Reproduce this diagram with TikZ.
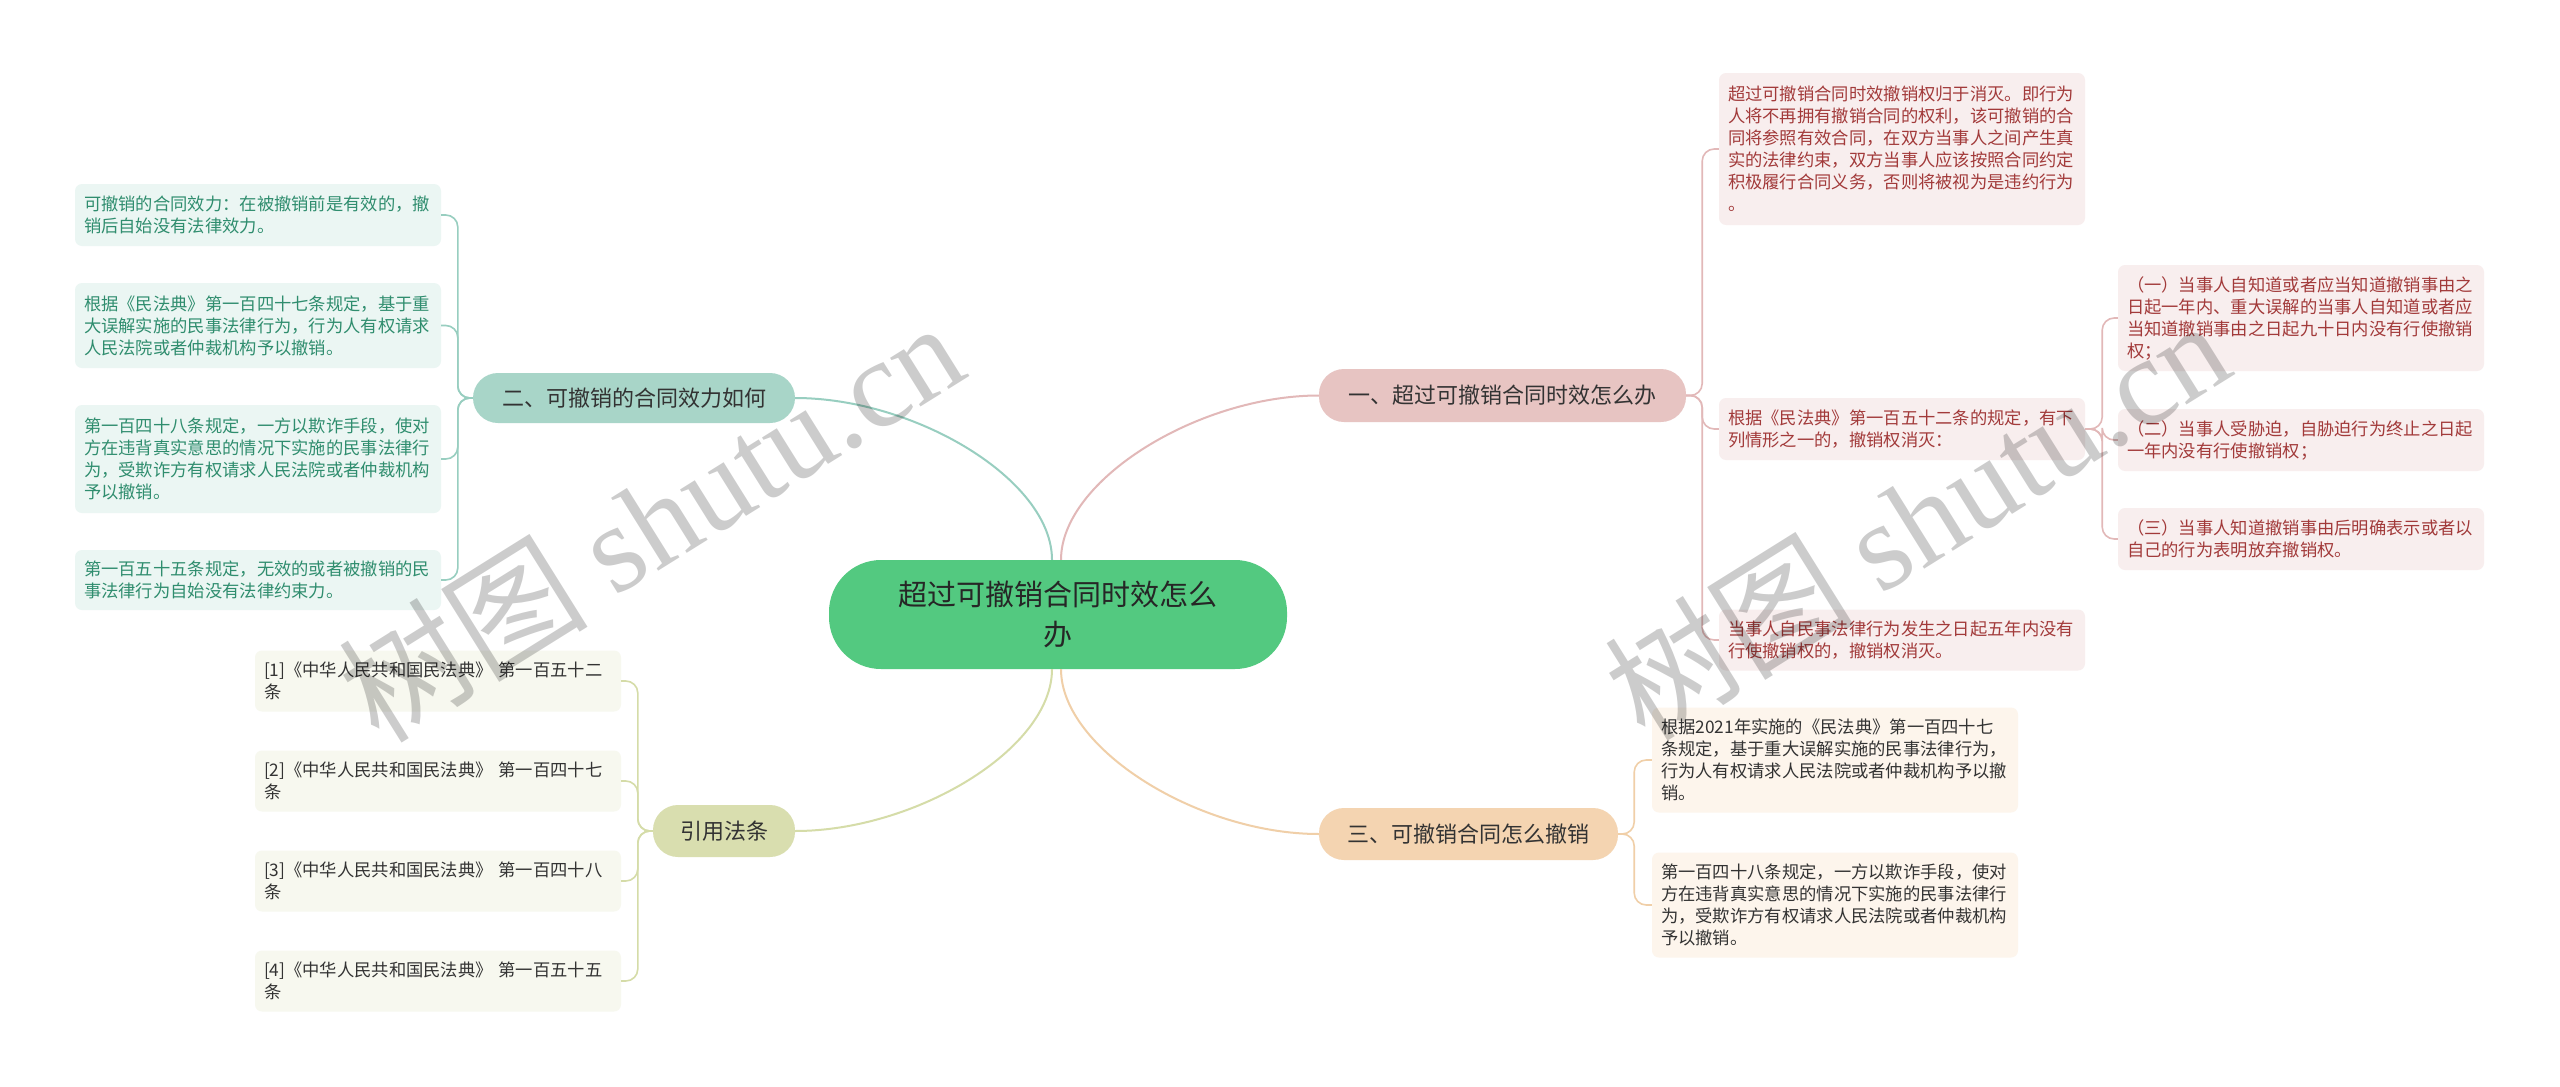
\documentclass[tikz,border=0pt]{standalone}
\usepackage{fontspec}
\setmainfont{Noto Sans CJK SC}
\newfontfamily\wmserif{Liberation Serif}
\definecolor{cgreen}{HTML}{53C980}
\definecolor{fpink}{HTML}{E7C4C2}
\definecolor{fteal}{HTML}{A8D5C8}
\definecolor{fpeach}{HTML}{F4D4B1}
\definecolor{folive}{HTML}{D9DEAF}
\definecolor{lpink}{HTML}{E2B8B8}
\definecolor{lteal}{HTML}{98CEC0}
\definecolor{lpeach}{HTML}{F0CFA8}
\definecolor{lolive}{HTML}{D5DCA8}
\definecolor{bgpink}{HTML}{F8EEEE}
\definecolor{bgteal}{HTML}{EBF6F3}
\definecolor{bgpeach}{HTML}{FDF5EC}
\definecolor{bgolive}{HTML}{F7F8EF}
\definecolor{txred}{HTML}{A23A3A}
\definecolor{txteal}{HTML}{2F8D6E}
\definecolor{txdark}{HTML}{333333}
\begin{document}
\begin{tikzpicture}[x=1pt,y=-1pt,
  leaf/.style={rounded corners=7pt, inner xsep=9pt, inner ysep=0pt, align=left,
    text width=348pt, font=\fontsize{17.3}{22}\selectfont, anchor=center},
  leafr/.style={leaf, fill=bgpink, text=txred},
  leaft/.style={leaf, fill=bgteal, text=txteal},
  leafp/.style={leaf, fill=bgpeach, text=txdark},
  leafo/.style={leaf, fill=bgolive, text=txdark},
  topic/.style={rounded corners=25pt, inner sep=0pt, align=center, text=txdark,
    font=\fontsize{22}{26}\selectfont},
  conn/.style={line width=2pt},
  brk/.style={line width=1.6pt, rounded corners=12pt},
  wm/.style={text=black, text opacity=0.2, rotate=32, inner sep=0pt,
    font=\fontsize{125}{125}\selectfont}
]
\useasboundingbox (0,0) rectangle (2560,1087);
\fill[white] (0,0) rectangle (2560,1087);

% central node
\node[fill=cgreen, rounded corners=52pt, minimum width=458pt, minimum height=109pt,
  inner sep=0pt, align=center, text=black!85, font=\fontsize{29}{40}\selectfont]
  (c) at (1058,614.5) {超过可撤销合同时效怎么\\办};

% first level
\node[topic, fill=fpink, minimum width=367pt, minimum height=53pt] (n1) at (1502.5,395.5) {一、超过可撤销合同时效怎么办};
\node[topic, fill=fpeach, minimum width=299pt, minimum height=52pt] (n3) at (1468.5,834) {三、可撤销合同怎么撤销};
\node[topic, fill=fteal, minimum width=322pt, minimum height=50pt] (n2) at (634,398) {二、可撤销的合同效力如何};
\node[topic, fill=folive, minimum width=142pt, minimum height=52pt] (n4) at (724,831) {引用法条};

% branch 1 leaves
\node[leafr, minimum height=152pt] (r1) at (1902,149) {超过可撤销合同时效撤销权归于消灭。即行为\\人将不再拥有撤销合同的权利，该可撤销的合\\同将参照有效合同，在双方当事人之间产生真\\实的法律约束，双方当事人应该按照合同约定\\积极履行合同义务，否则将被视为是违约行为\\。};
\node[leafr, minimum height=62pt] (r2) at (1902,429) {根据《民法典》第一百五十二条的规定，有下\\列情形之一的，撤销权消灭：};
\node[leafr, minimum height=61pt] (r3) at (1902,640) {当事人自民事法律行为发生之日起五年内没有\\行使撤销权的，撤销权消灭。};
\node[leafr, minimum height=106pt] (q1) at (2301,318) {（一）当事人自知道或者应当知道撤销事由之\\日起一年内、重大误解的当事人自知道或者应\\当知道撤销事由之日起九十日内没有行使撤销\\权；};
\node[leafr, minimum height=62pt] (q2) at (2301,440) {（二）当事人受胁迫，自胁迫行为终止之日起\\一年内没有行使撤销权；};
\node[leafr, minimum height=62pt] (q3) at (2301,539) {（三）当事人知道撤销事由后明确表示或者以\\自己的行为表明放弃撤销权。};

% branch 3 leaves
\node[leafp, minimum height=105pt] (t1) at (1835,760) {根据2021年实施的《民法典》第一百四十七\\条规定，基于重大误解实施的民事法律行为，\\行为人有权请求人民法院或者仲裁机构予以撤\\销。};
\node[leafp, minimum height=105pt] (t2) at (1835,905) {第一百四十八条规定，一方以欺诈手段，使对\\方在违背真实意思的情况下实施的民事法律行\\为，受欺诈方有权请求人民法院或者仲裁机构\\予以撤销。};

% branch 2 leaves
\node[leaft, minimum height=62pt] (l1) at (258,215) {可撤销的合同效力：在被撤销前是有效的，撤\\销后自始没有法律效力。};
\node[leaft, minimum height=85pt] (l2) at (258,325.5) {根据《民法典》第一百四十七条规定，基于重\\大误解实施的民事法律行为，行为人有权请求\\人民法院或者仲裁机构予以撤销。};
\node[leaft, minimum height=108pt] (l3) at (258,459) {第一百四十八条规定，一方以欺诈手段，使对\\方在违背真实意思的情况下实施的民事法律行\\为，受欺诈方有权请求人民法院或者仲裁机构\\予以撤销。};
\node[leaft, minimum height=60pt] (l4) at (258,580) {第一百五十五条规定，无效的或者被撤销的民\\事法律行为自始没有法律约束力。};

% branch 4 leaves
\node[leafo, minimum height=61pt] (f1) at (438,681) {[1]《中华人民共和国民法典》 第一百五十二\\条};
\node[leafo, minimum height=61pt] (f2) at (438,781) {[2]《中华人民共和国民法典》 第一百四十七\\条};
\node[leafo, minimum height=61pt] (f3) at (438,881) {[3]《中华人民共和国民法典》 第一百四十八\\条};
\node[leafo, minimum height=61pt] (f4) at (438,981) {[4]《中华人民共和国民法典》 第一百五十五\\条};

% main connectors
\draw[conn, lpink] ([xshift=3pt]c.north) .. controls ++(0,-80) and ++(-120,0) .. (n1.west);
\draw[conn, lteal] ([xshift=-6pt]c.north) .. controls ++(0,-80) and ++(120,0) .. (n2.east);
\draw[conn, lpeach] ([xshift=3pt]c.south) .. controls ++(0,80) and ++(-120,0) .. (n3.west);
\draw[conn, lolive] ([xshift=-6pt]c.south) .. controls ++(0,80) and ++(120,0) .. (n4.east);

% brackets
\foreach \k in {r1,r2,r3}{\draw[brk, lpink] (n1.east) -- ++(16,0) |- (\k.west);}
\foreach \k in {q1,q2,q3}{\draw[brk, lpink] (r2.east) -- ++(17,0) |- (\k.west);}
\foreach \k in {t1,t2}{\draw[brk, lpeach] (n3.east) -- ++(16,0) |- (\k.west);}
\foreach \k in {l1,l2,l3,l4}{\draw[brk, lteal] (n2.west) -- ++(-15,0) |- (\k.east);}
\foreach \k in {f1,f2,f3,f4}{\draw[brk, lolive] (n4.west) -- ++(-15,0) |- (\k.east);}

% watermarks
\node[wm] (w1) at (650,520) {树图 {\wmserif shutu.cn}};
\node[wm] (w2) at (1916,518) {树图 {\wmserif shutu.cn}};
\end{tikzpicture}
\end{document}
